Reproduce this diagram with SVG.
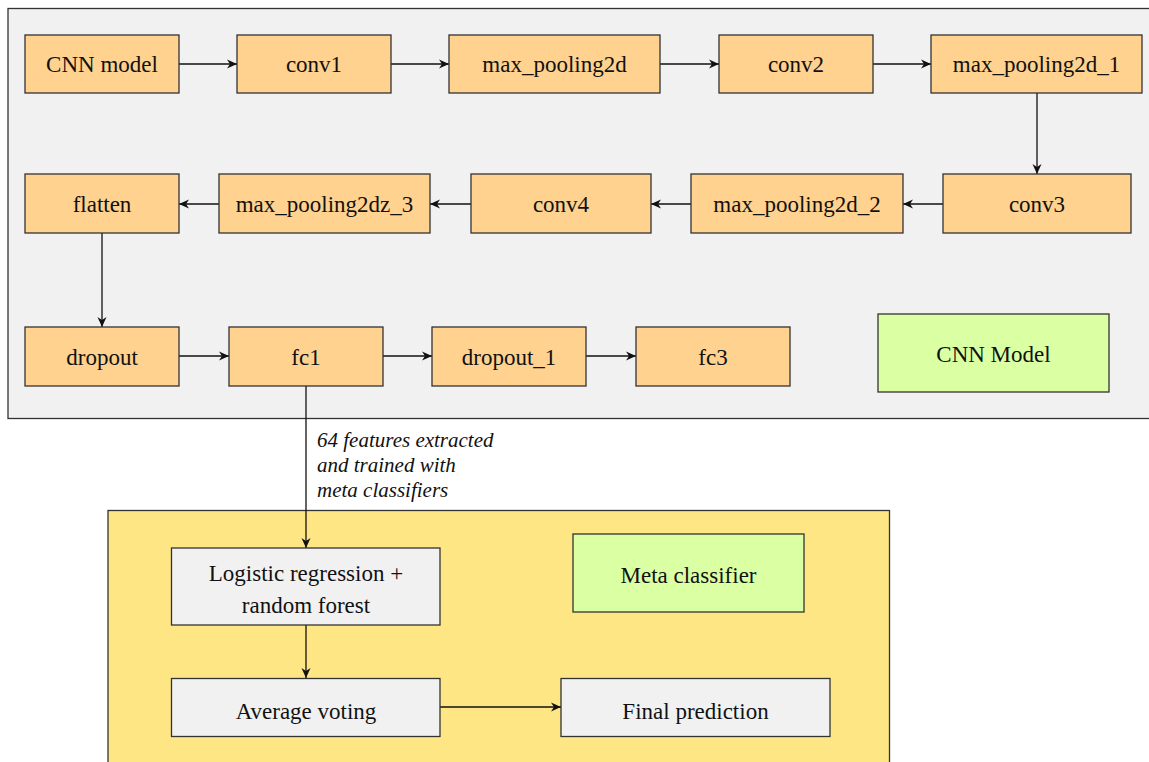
<svg xmlns="http://www.w3.org/2000/svg" width="1149" height="762" viewBox="0 0 1149 762">
<defs>
<style>
.cont{stroke:#333;stroke-width:1.3}
.n{fill:#ffd28f;stroke:#333;stroke-width:1.3}
.g{fill:#dbffa3;stroke:#333;stroke-width:1.3}
.w{fill:#f1f1f1;stroke:#333;stroke-width:1.3}
.t{font-family:"Liberation Serif","Times New Roman",serif;font-size:23px;fill:#111;text-anchor:middle}
.lbl{font-family:"Liberation Serif","Times New Roman",serif;font-size:21px;font-style:italic;fill:#111}
.e{stroke:#111;stroke-width:1.3;fill:none;marker-end:url(#ah)}
</style>
<marker id="ah" viewBox="0 0 10 10" refX="10" refY="5" markerWidth="10" markerHeight="10" markerUnits="userSpaceOnUse" orient="auto">
<path d="M0,0.5 L10,5 L0,9.5 L3,5 z" fill="#111"/>
</marker>
</defs>
<rect x="0" y="0" width="1149" height="762" fill="#fff"/>
<g id="cnn-container"><rect class="cont" x="8" y="8.5" width="1150" height="410" fill="#f1f1f1"/></g>
<g id="meta-container"><rect class="cont" x="108" y="510.5" width="781.5" height="260" fill="#ffe685"/></g>

<g id="connectors">
<line class="e" x1="179" y1="64" x2="237" y2="64"/>
<line class="e" x1="391" y1="64" x2="449" y2="64"/>
<line class="e" x1="660" y1="64" x2="719" y2="64"/>
<line class="e" x1="873" y1="64" x2="931" y2="64"/>
<line class="e" x1="1037" y1="93" x2="1037" y2="174"/>
<line class="e" x1="943" y1="204" x2="903" y2="204"/>
<line class="e" x1="691" y1="204" x2="651" y2="204"/>
<line class="e" x1="471" y1="204" x2="430" y2="204"/>
<line class="e" x1="219" y1="204" x2="179" y2="204"/>
<line class="e" x1="102" y1="233" x2="102" y2="327"/>
<line class="e" x1="179" y1="356" x2="229" y2="356"/>
<line class="e" x1="383" y1="356" x2="432" y2="356"/>
<line class="e" x1="586" y1="356" x2="636" y2="356"/>
<line class="e" x1="306" y1="386" x2="306" y2="548"/>
<line class="e" x1="306" y1="625" x2="306" y2="678"/>
<line class="e" x1="440" y1="707" x2="561" y2="707"/>
<text class="lbl" x="317" y="447">64 features extracted</text>
<text class="lbl" x="317" y="472">and trained with</text>
<text class="lbl" x="317" y="497">meta classifiers</text>
</g>

<g id="cnn-model"><rect class="n" x="25" y="35" width="154" height="58"/><text class="t" x="102" y="72">CNN model</text></g>
<g id="conv1"><rect class="n" x="237" y="35" width="154" height="58"/><text class="t" x="314" y="72">conv1</text></g>
<g id="max_pooling2d"><rect class="n" x="449" y="35" width="211" height="58"/><text class="t" x="554.5" y="72">max_pooling2d</text></g>
<g id="conv2"><rect class="n" x="719" y="35" width="154" height="58"/><text class="t" x="796" y="72">conv2</text></g>
<g id="max_pooling2d_1"><rect class="n" x="931" y="35" width="211" height="58"/><text class="t" x="1036.5" y="72">max_pooling2d_1</text></g>

<g id="flatten"><rect class="n" x="25" y="174" width="154" height="59"/><text class="t" x="102" y="212">flatten</text></g>
<g id="max_pooling2dz_3"><rect class="n" x="219" y="174" width="211" height="59"/><text class="t" x="324.5" y="212">max_pooling2dz_3</text></g>
<g id="conv4"><rect class="n" x="471" y="174" width="180" height="59"/><text class="t" x="561" y="212">conv4</text></g>
<g id="max_pooling2d_2"><rect class="n" x="691" y="174" width="212" height="59"/><text class="t" x="797" y="212">max_pooling2d_2</text></g>
<g id="conv3"><rect class="n" x="943" y="174" width="188" height="59"/><text class="t" x="1037" y="212">conv3</text></g>

<g id="dropout"><rect class="n" x="25" y="327" width="154" height="59"/><text class="t" x="102" y="365">dropout</text></g>
<g id="fc1"><rect class="n" x="229" y="327" width="154" height="59"/><text class="t" x="306" y="365">fc1</text></g>
<g id="dropout_1"><rect class="n" x="432" y="327" width="154" height="59"/><text class="t" x="509" y="365">dropout_1</text></g>
<g id="fc3"><rect class="n" x="636" y="327" width="154" height="59"/><text class="t" x="713" y="365">fc3</text></g>

<g id="cnn-model-legend"><rect class="g" x="878" y="314" width="231" height="78"/><text class="t" x="993.5" y="362">CNN Model</text></g>

<g id="logistic-rf"><rect class="w" x="171.5" y="548" width="268.5" height="77"/><text class="t" x="306" y="581">Logistic regression +</text><text class="t" x="306" y="613">random forest</text></g>
<g id="meta-classifier"><rect class="g" x="573" y="534" width="231" height="78"/><text class="t" x="688.5" y="583">Meta classifier</text></g>
<g id="average-voting"><rect class="w" x="171.5" y="678.5" width="268.5" height="58"/><text class="t" x="306" y="719">Average voting</text></g>
<g id="final-prediction"><rect class="w" x="561" y="678.5" width="269" height="58"/><text class="t" x="695.5" y="719">Final prediction</text></g>
</svg>
